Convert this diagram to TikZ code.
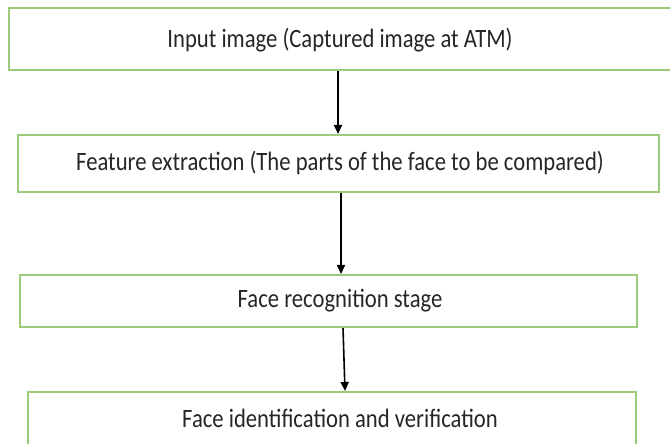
\documentclass[tikz,border=0pt]{standalone}
\usepackage{fontspec}
\setmainfont{Carlito}
\usetikzlibrary{arrows.meta}
\definecolor{boxgreen}{HTML}{9BCB7B}
\newcommand\steptext[1]{\scalebox{0.855}[1]{#1}}
\tikzset{
  stepbox/.style={draw=boxgreen, line width=2bp, fill=none, inner sep=0pt},
  flowarrow/.style={-{Triangle[length=9bp,width=8bp]}, line width=1.6bp, black},
  steplabel/.style={font=\fontsize{26.5bp}{30bp}\selectfont, text=black!85, inner sep=0pt}
}
\begin{document}
\begin{tikzpicture}[x=1bp,y=-1bp]
\useasboundingbox (0,0) rectangle (670,444);
% step boxes
\node[stepbox, minimum width=670bp, minimum height=62bp] (b1) at (344,39) {};
\node[stepbox, minimum width=641bp, minimum height=57bp] (b2) at (338.5,163.5) {};
\node[stepbox, minimum width=617bp, minimum height=52bp] (b3) at (328.5,301) {};
\node[stepbox, minimum width=608bp, minimum height=90bp] (b4) at (332,437) {};
% labels
\node[steplabel] (t1) at (340,40) {\steptext{Input image (Captured image at ATM)}};
\node[steplabel] (t2) at (340,163) {\steptext{Feature extraction (The parts of the face to be compared)}};
\node[steplabel] (t3) at (340,301) {\steptext{Face recognition stage}};
\node[steplabel] (t4) at (340,418) {\steptext{Face identification and verification}};
% connectors
\coordinate (a1s) at (b1.south -| 338,0);
\coordinate (a1e) at (b2.north -| 338,0);
\coordinate (a2s) at (b2.south -| 341,0);
\coordinate (a2e) at (b3.north -| 341,0);
\coordinate (a3s) at (b3.south -| 343,0);
\coordinate (a3e) at (b4.north -| 345,0);
\draw[flowarrow] (a1s) -- (a1e);
\draw[flowarrow] (a2s) -- (a2e);
\draw[flowarrow] (a3s) -- (a3e);
\end{tikzpicture}
\end{document}
